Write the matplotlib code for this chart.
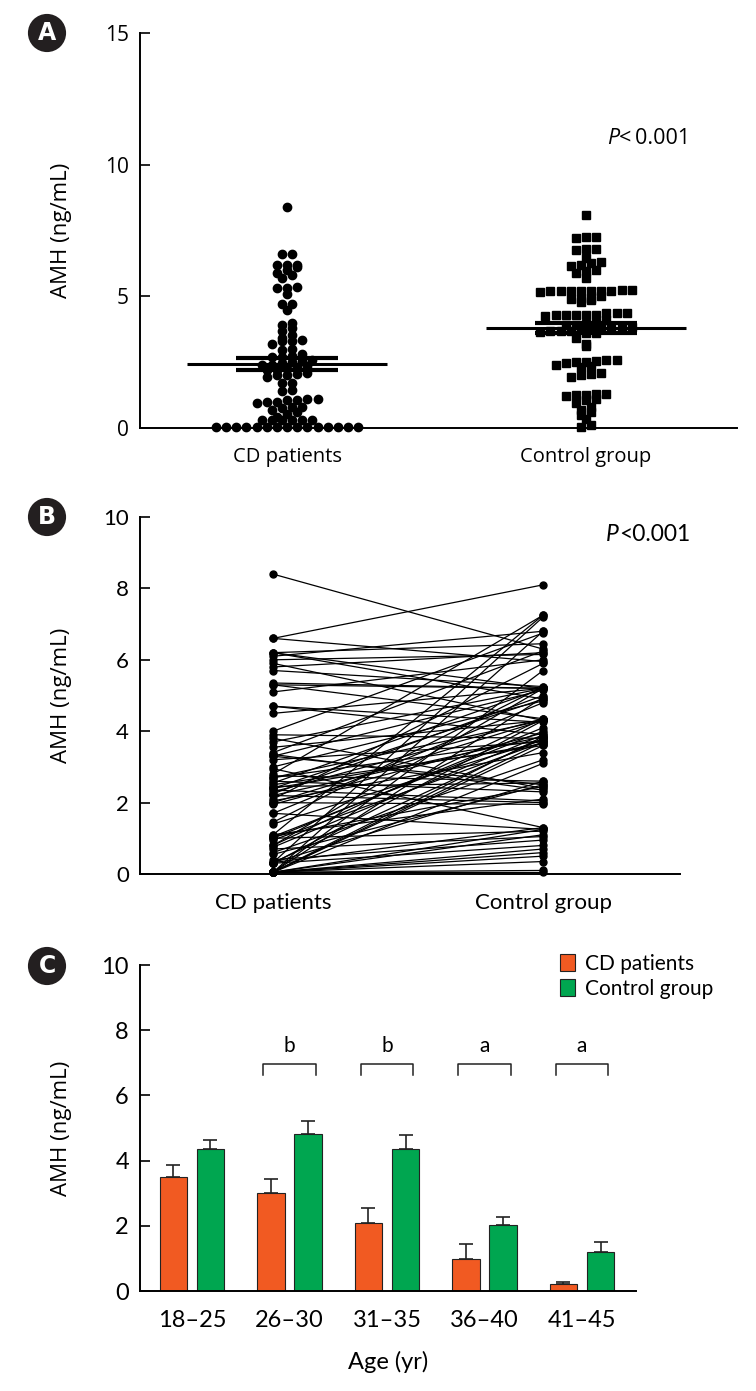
import numpy as np
import matplotlib
matplotlib.use("Agg")
from matplotlib import pyplot as plt
from matplotlib.patches import Patch

# ---- data ----
# AMH per subject, CD patients (paired order with control_amh for panel B)
cd_amh = [8.4, 6.6, 6.6, 6.2, 6.2, 6.1, 6.0, 6.2, 5.8, 5.7, 5.9, 5.3, 5.1, 5.3, 5.35,
          4.7, 4.5, 4.7, 3.9, 3.7, 3.8, 4.0, 3.55, 3.3, 3.3, 3.2, 3.35, 3.4, 3.0, 2.95,
          2.8, 2.75, 2.7, 2.7, 2.6, 2.55, 2.5, 2.45, 2.4, 2.4, 2.35, 2.3, 2.25, 2.2, 2.2,
          2.1, 2.05, 2.0, 2.0, 1.95, 1.7, 1.7, 1.45, 1.4, 1.1, 1.05, 1.0, 0.95, 1.0, 1.05,
          1.1, 0.8, 0.75, 0.7, 0.8, 0.6, 0.55, 0.4, 0.32, 0.32, 0.3, 0.3, 0.32, 0.32,
          0.05, 0.05, 0.05, 0.05, 0.05, 0.05, 0.05, 0.05, 0.05, 0.05, 0.05, 0.05, 0.05, 0.05, 0.05]
control_amh = [6.3, 8.1, 5.95, 6.45, 5.2, 6.8, 6.15, 4.9, 6.2, 5.25, 4.3, 5.2, 6.0, 4.35, 5.2,
               3.9, 5.2, 4.25, 3.8, 5.2, 2.4, 6.75, 4.3, 2.5, 5.15, 3.7, 2.35, 6.25, 4.85, 1.3,
               7.25, 2.6, 4.3, 3.75, 2.3, 5.2, 3.6, 2.55, 4.9, 3.65, 2.05, 4.35, 5.0, 3.85, 2.0,
               5.9, 3.4, 4.3, 1.95, 3.95, 4.8, 1.25, 5.25, 3.75, 7.25, 2.45, 4.1, 3.7, 1.2, 4.0,
               2.1, 5.2, 3.9, 1.05, 4.35, 3.2, 2.5, 0.95, 7.2, 1.3, 4.3, 0.8, 2.6, 3.8,
               6.8, 5.7, 4.95, 3.85, 3.7, 3.6, 3.1, 1.25, 1.1, 0.7, 0.6, 0.5, 0.35, 0.1, 0.05]
group_names = ["CD patients", "Control group"]
group_mean = [2.43, 3.80]
group_sem = [0.23, 0.19]

age_groups = ["18\u201325", "26\u201330", "31\u201335", "36\u201340", "41\u201345"]
cd_bar = [3.5, 3.02, 2.1, 0.97, 0.2]
cd_err = [0.35, 0.41, 0.44, 0.46, 0.065]
ctrl_bar = [4.37, 4.83, 4.37, 2.01, 1.21]
ctrl_err = [0.27, 0.39, 0.40, 0.27, 0.28]
sig_marks = ["", "b", "b", "a", "a"]

ORANGE = "#F15A22"
GREEN = "#00A650"
W, H = 756, 1391
MAIN = "Open Sans"
NARROW = "Lato"

plt.rcParams["font.family"] = MAIN


def px_axes(fig, left, top, right, bottom):
    return fig.add_axes([left / W, 1 - bottom / H, (right - left) / W, (bottom - top) / H])


def style_axes(ax):
    for s in ["top", "right"]:
        ax.spines[s].set_visible(False)
    for s in ["left", "bottom"]:
        ax.spines[s].set_linewidth(1.4)
    ax.tick_params(axis="y", direction="in", length=7, width=1.2, pad=8)
    ax.tick_params(axis="x", length=0)


def swarm_offsets(values, row_h, step):
    vals = np.asarray(values, dtype=float)
    rows = np.round(vals / row_h).astype(int)
    offs = np.zeros(len(vals))
    for r in np.unique(rows):
        idx = np.where(rows == r)[0]
        idx = idx[np.argsort(vals[idx])]
        n = len(idx)
        offs[idx] = (np.arange(n) - (n - 1) / 2) * step
    return offs


def panel_label(fig, x, y, letter):
    fig.text(x / W, 1 - y / H, letter, color="white", fontsize=17, fontweight="bold",
             ha="center", va="center", family="DejaVu Sans",
             bbox=dict(boxstyle="circle,pad=0.3", fc="#231f20", ec="none"))


fig = plt.figure(figsize=(W / 100, H / 100), dpi=100)

# ---- panel A: dot plot ----
axA = px_axes(fig, 140, 33, 737, 428)
style_axes(axA)
cd_off = swarm_offsets(cd_amh, 0.25, 0.034)
ct_off = swarm_offsets(control_amh, 0.25, 0.034)
axA.plot(0 + cd_off, cd_amh, "o", ms=6, color="black", clip_on=False, zorder=3)
axA.plot(1 + ct_off, control_amh, "s", ms=6, color="black", clip_on=False, zorder=3)
for i in range(2):
    axA.hlines(group_mean[i], i - 0.335, i + 0.335, color="black", lw=2.2, zorder=4)
    axA.hlines([group_mean[i] - group_sem[i], group_mean[i] + group_sem[i]],
               i - 0.17, i + 0.17, color="black", lw=3, zorder=4)
axA.set_xlim(-0.492, 1.505)
axA.set_ylim(0, 15)
axA.set_yticks([0, 5, 10, 15])
axA.set_xticks([0, 1])
axA.set_xticklabels(group_names, fontsize=14.5)
axA.tick_params(axis="x", pad=14)
axA.tick_params(axis="y", labelsize=15)
axA.set_ylabel("AMH (ng/mL)", fontsize=16)
axA.yaxis.set_label_coords(-0.114, 0.5)
axA.text(1.11, 11.0, "P", style="italic", fontsize=15.5, ha="right", va="center")
axA.text(1.11, 11.0, "<\u20090.001", fontsize=15.5, ha="left", va="center",
         family=[MAIN, "DejaVu Sans"])

# ---- panel B: paired lines ----
axB = px_axes(fig, 140, 517, 680, 874)
style_axes(axB)
for a, b in zip(cd_amh, control_amh):
    axB.plot([0, 1], [a, b], "-", color="black", lw=0.9, zorder=2)
axB.plot(np.zeros(len(cd_amh)), cd_amh, "o", ms=5, color="black", zorder=3, clip_on=False)
axB.plot(np.ones(len(control_amh)), control_amh, "o", ms=5, color="black", zorder=3, clip_on=False)
axB.set_xlim(-0.493, 1.507)
axB.set_ylim(0, 10)
axB.set_yticks(range(0, 11, 2))
axB.set_xticks([0, 1])
axB.set_xticklabels(group_names, fontsize=16, family=NARROW)
axB.tick_params(axis="x", pad=14)
for t in axB.get_yticklabels():
    t.set_fontsize(16)
    t.set_family(NARROW)
axB.set_ylabel("AMH (ng/mL)", fontsize=16)
axB.yaxis.set_label_coords(-0.126, 0.5)
axB.text(1.28, 9.5, "P", style="italic", fontsize=16.5, ha="right", va="center", family=NARROW)
axB.text(1.28, 9.5, "<0.001", fontsize=16.5, ha="left", va="center", family=NARROW)

# ---- panel C: bars by age ----
axC = px_axes(fig, 140, 965, 636, 1291)
style_axes(axC)
x = np.arange(len(age_groups))
bw = 0.28
off = 0.19
axC.bar(x - off, cd_bar, bw, color=ORANGE, edgecolor="#222222", lw=0.8, label="CD patients", zorder=2)
axC.bar(x + off, ctrl_bar, bw, color=GREEN, edgecolor="#222222", lw=0.8, label="Control group", zorder=2)
axC.errorbar(x - off, cd_bar, yerr=[np.zeros(len(cd_err)), cd_err], fmt="none",
             ecolor="#222222", elinewidth=1.2, capsize=5, capthick=1.2, zorder=1)
axC.errorbar(x + off, ctrl_bar, yerr=[np.zeros(len(ctrl_err)), ctrl_err], fmt="none",
             ecolor="#222222", elinewidth=1.2, capsize=5, capthick=1.2, zorder=1)
for g, m in zip(x, sig_marks):
    if m:
        axC.plot([g - 0.27, g - 0.27, g + 0.27, g + 0.27], [6.63, 6.97, 6.97, 6.63],
                 color="#222222", lw=1.1)
        axC.text(g, 7.5, m, fontsize=15, ha="center", va="center", family=NARROW)
axC.set_xlim(-0.533, 4.554)
axC.set_ylim(0, 10)
axC.set_yticks(range(0, 11, 2))
axC.set_xticks(x)
axC.set_xticklabels(age_groups, fontsize=17, family=NARROW)
axC.tick_params(axis="x", pad=14)
for t in axC.get_yticklabels():
    t.set_fontsize(17)
    t.set_family(NARROW)
axC.set_ylabel("AMH (ng/mL)", fontsize=16)
axC.yaxis.set_label_coords(-0.137, 0.5)
axC.set_xlabel("Age (yr)", fontsize=17, family=NARROW, labelpad=14)
handles = [Patch(facecolor=ORANGE, edgecolor="#222222", lw=0.8),
           Patch(facecolor=GREEN, edgecolor="#222222", lw=0.8)]
axC.legend(handles, ["CD patients", "Control group"], frameon=False, loc="upper left",
           bbox_to_anchor=(0.83, 1.06), handlelength=0.7, handleheight=0.9,
           handletextpad=0.5, labelspacing=0.25, prop={"family": NARROW, "size": 15},
           borderaxespad=0)

panel_label(fig, 47, 33, "A")
panel_label(fig, 47, 517, "B")
panel_label(fig, 47, 966, "C")

fig.savefig("out.png", dpi=100)
